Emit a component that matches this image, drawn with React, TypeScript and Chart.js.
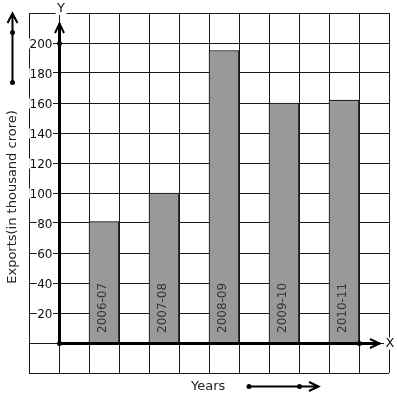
import React, { useEffect, useRef } from 'react';
import { Chart, registerables } from 'chart.js';

Chart.register(...registerables);

// ---- data ----
const years = ['2006-07', '2007-08', '2008-09', '2009-10', '2010-11'];
const exportsValues = [81, 100, 195, 160, 162];
const yTickLabels = ['20', '40', '60', '80', '100', '120', '140', '160', '180', '200'];
const yAxisTitle = 'Exports(in thousand crore)';
const xAxisTitle = 'Years';

const FONT = '"DejaVu Sans", Verdana, sans-serif';
const INK = '#111111';

const overlay = {
  id: 'graphPaper',
  afterDraw(chart: any) {
    const { ctx, scales } = chart;
    const xs = scales.x;
    const ys = scales.y;
    const ax = xs.getPixelForValue(0) + 0.5;
    const ay = ys.getPixelForValue(0) + 0.5;
    const top = chart.chartArea.top;
    const right = chart.chartArea.right;
    ctx.save();

    // y tick labels with white backdrop
    ctx.font = `12px ${FONT}`;
    ctx.textAlign = 'right';
    ctx.textBaseline = 'alphabetic';
    yTickLabels.forEach((lbl) => {
      const py = ys.getPixelForValue(Number(lbl)) + 0.5;
      const w = ctx.measureText(lbl).width;
      const rx = ax - 7;
      ctx.fillStyle = '#ffffff';
      ctx.fillRect(rx - w - 0.5, py - 5, w + 1, 10);
      ctx.fillStyle = INK;
      ctx.fillText(lbl, rx, py + 4.3);
    });

    // bar labels
    const meta = chart.getDatasetMeta(0);
    ctx.font = `12px ${FONT}`;
    ctx.fillStyle = '#333333';
    ctx.textAlign = 'left';
    meta.data.forEach((bar: any, i: number) => {
      ctx.save();
      ctx.translate(bar.x + 1.5, ay - 10.5);
      ctx.rotate(-Math.PI / 2);
      ctx.fillText(years[i], 0, 0);
      ctx.restore();
    });

    ctx.strokeStyle = '#000000';
    ctx.fillStyle = '#000000';
    ctx.lineCap = 'butt';

    // thick axes
    ctx.lineWidth = 3;
    ctx.beginPath();
    ctx.moveTo(ax, ay);
    ctx.lineTo(ax, top + 10.5);
    ctx.moveTo(ax, ay);
    ctx.lineTo(right - 9, ay);
    ctx.stroke();

    // arrow heads
    ctx.lineWidth = 2;
    ctx.lineJoin = 'miter';
    ctx.beginPath();
    ctx.moveTo(ax - 4.5, top + 20);
    ctx.lineTo(ax, top + 10.5);
    ctx.lineTo(ax + 4.5, top + 20);
    ctx.moveTo(right - 19, ay - 4.5);
    ctx.lineTo(right - 9.5, ay);
    ctx.lineTo(right - 19, ay + 4.5);
    ctx.stroke();

    // dots on axes
    const dot = (cx: number, cy: number) => {
      ctx.beginPath();
      ctx.arc(cx, cy, 2.5, 0, Math.PI * 2);
      ctx.fill();
    };
    dot(ax, ys.getPixelForValue(200) + 0.5);
    dot(ax, ay);
    dot(xs.getPixelForValue(10) + 0.5, ay);

    // axis letters with white backdrop
    ctx.font = `13px ${FONT}`;
    ctx.textAlign = 'center';
    ctx.textBaseline = 'middle';
    const letter = (t: string, cx: number, cy: number) => {
      const w = ctx.measureText(t).width;
      ctx.fillStyle = '#ffffff';
      ctx.fillRect(cx - w / 2 - 1.5, cy - 6, w + 3, 12);
      ctx.fillStyle = INK;
      ctx.fillText(t, cx, cy);
    };
    letter('Y', ax + 1.5, top - 4);
    letter('X', right + 1, ay);

    // left decorative arrow
    ctx.strokeStyle = '#000000';
    ctx.fillStyle = '#000000';
    ctx.lineWidth = 2;
    ctx.beginPath();
    ctx.moveTo(12.5, 82.5);
    ctx.lineTo(12.5, 14);
    ctx.moveTo(7.5, 23);
    ctx.lineTo(12.5, 13.5);
    ctx.lineTo(17.5, 23);
    ctx.stroke();
    dot(12.5, 32.5);
    dot(12.5, 82.5);

    // y title
    ctx.save();
    ctx.font = `13px ${FONT}`;
    ctx.fillStyle = '#222222';
    ctx.textAlign = 'center';
    ctx.textBaseline = 'middle';
    ctx.translate(12.5, 197);
    ctx.rotate(-Math.PI / 2);
    ctx.fillText(yAxisTitle, 0, 0);
    ctx.restore();

    // x title + arrow
    ctx.font = `13px ${FONT}`;
    ctx.fillStyle = '#222222';
    ctx.textAlign = 'left';
    ctx.textBaseline = 'alphabetic';
    ctx.fillText(xAxisTitle, 191, 389.5);
    ctx.fillStyle = '#000000';
    ctx.beginPath();
    ctx.moveTo(249, 386.5);
    ctx.lineTo(318, 386.5);
    ctx.moveTo(309, 382);
    ctx.lineTo(318.5, 386.5);
    ctx.lineTo(309, 391);
    ctx.stroke();
    dot(249, 386.5);
    dot(299.5, 386.5);

    ctx.restore();
  },
};

export default function App() {
  const ref = useRef<HTMLCanvasElement | null>(null);

  useEffect(() => {
    if (!ref.current) return;
    const chart = new Chart(ref.current, {
      type: 'bar',
      data: {
        datasets: [
          {
            label: 'Exports',
            data: exportsValues.map((v, i) => ({ x: 2 * i + 1.5, y: v })),
            backgroundColor: '#999999',
            borderColor: '#000000',
            borderWidth: 1,
            borderSkipped: 'bottom',
            categoryPercentage: 1,
            barPercentage: 1,
          },
        ],
      },
      options: {
        responsive: false,
        animation: false,
        layout: { padding: { left: 29, right: 8, top: 13, bottom: 26 } },
        plugins: { legend: { display: false }, tooltip: { enabled: false }, title: { display: false } },
        scales: {
          x: {
            type: 'linear',
            min: -1,
            max: 11,
            offset: false,
            ticks: { display: false, stepSize: 1 },
            grid: { color: '#1a1a1a', lineWidth: 1, drawTicks: false, offset: false },
            border: { display: false },
          },
          y: {
            type: 'linear',
            min: -20,
            max: 220,
            ticks: { display: false, stepSize: 20 },
            grid: { color: '#1a1a1a', lineWidth: 1, drawTicks: false },
            border: { display: false },
          },
        },
      },
      plugins: [overlay],
    });
    return () => chart.destroy();
  }, []);

  return (
    <div style={{ position: 'absolute', left: 0, top: 0, width: 397, height: 399, background: '#ffffff' }}>
      <canvas ref={ref} width={397} height={399} />
    </div>
  );
}
